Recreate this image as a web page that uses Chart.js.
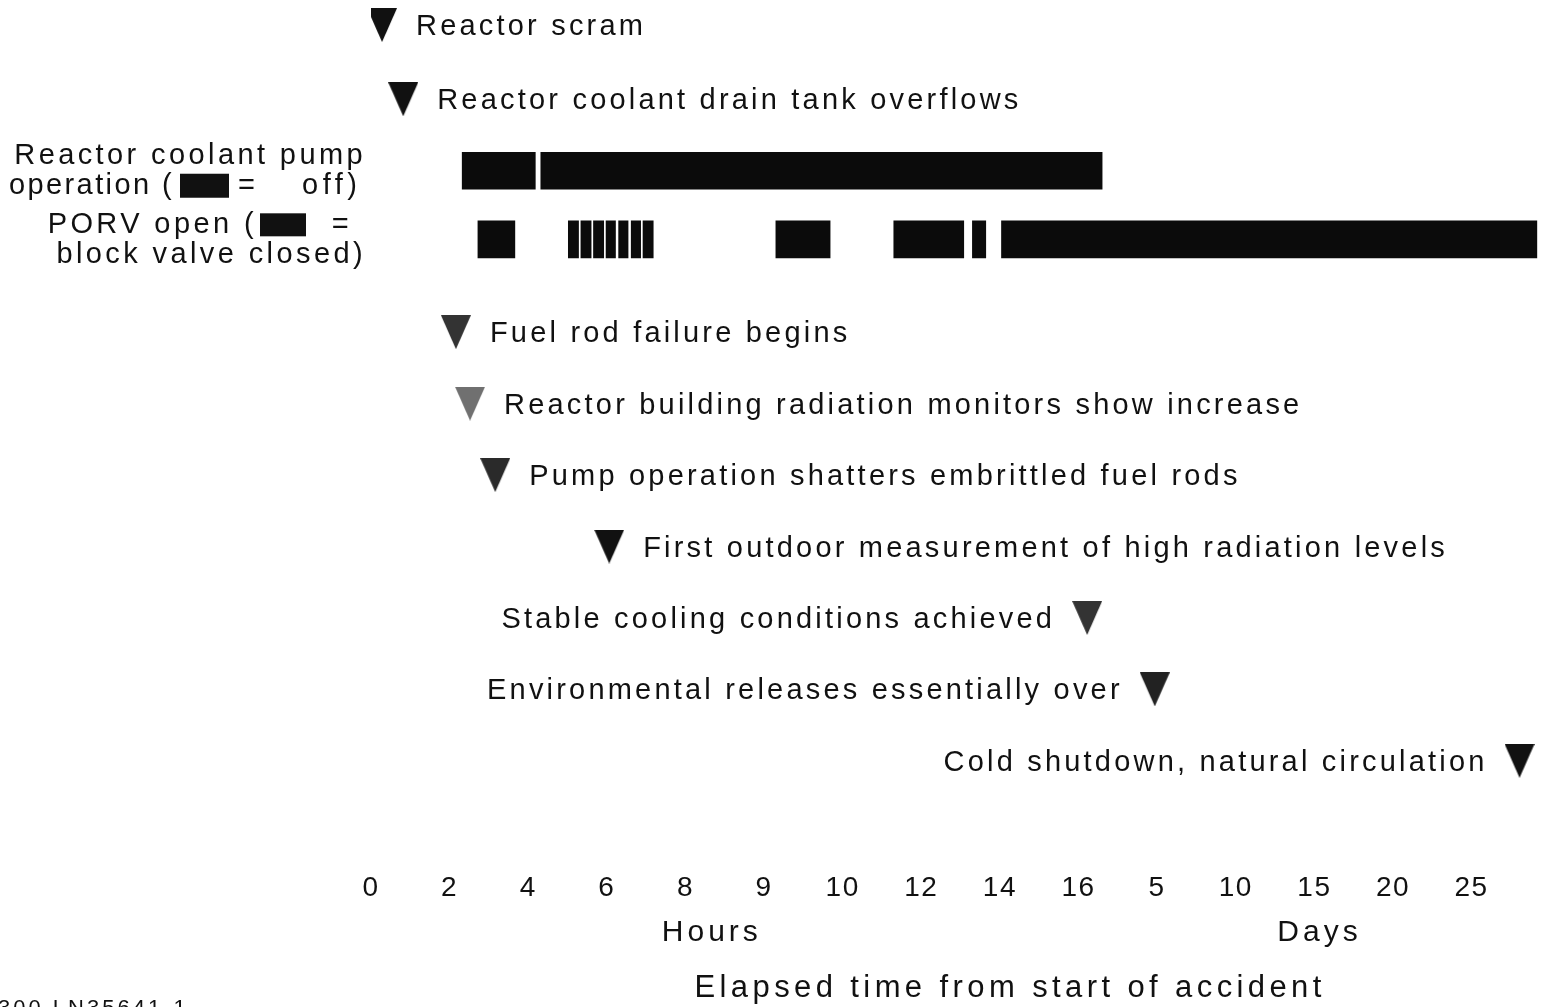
<!DOCTYPE html>
<html>
<head>
<meta charset="utf-8">
<script src="https://cdn.jsdelivr.net/npm/chart.js@4.4.1/dist/chart.umd.min.js"></script>
<style>
html,body{margin:0;padding:0;background:#fff;overflow:hidden}
#wrap{width:1541px;height:1007px;position:relative}
</style>
</head>
<body>
<div id="wrap"><canvas id="c" width="1541" height="1007"></canvas></div>
<script>
// ---------------- data ----------------
const tickLabels = ['0','2','4','6','8','9','10','12','14','16','5','10','15','20','25'];
const unitLabels = ['Hours','Days'];
const unitLabelAt = [4.31, 12.04];          // axis position (tick index units)
const axisTitle = 'Elapsed time from start of accident';
const axisTitleAt = 8.13;

const eventLabels = [
  'Reactor scram',
  'Reactor coolant drain tank overflows',
  'Fuel rod failure begins',
  'Reactor building radiation monitors show increase',
  'Pump operation shatters embrittled fuel rods',
  'First outdoor measurement of high radiation levels',
  'Stable cooling conditions achieved',
  'Environmental releases essentially over',
  'Cold shutdown, natural circulation'
];
const eventTimes = [0.14, 0.41, 1.08, 1.26, 1.58, 3.03, 9.11, 9.97, 14.61]; // tick index units
const eventRows  = [0, 1, 4, 5, 6, 7, 8, 9, 10];
const eventLabelSide = ['right','right','right','right','right','right','left','left','left'];

const pumpRow = 2;
const porvRow = 3;
const pumpOff = [[1.16, 2.09], [2.16, 9.30]];
const porvOpen = [
  [1.36, 1.83],
  [2.51, 2.64], [2.67, 2.80], [2.83, 2.96], [2.99, 3.11], [3.15, 3.27], [3.31, 3.43], [3.46, 3.59],
  [5.15, 5.84], [6.65, 7.54], [7.65, 7.82], [8.02, 14.83]
];

const pumpLegend = ['Reactor coolant pump', 'operation (', '=', 'off)'];
const porvLegend = ['PORV open (', '=', 'block valve closed)'];
const figureId = '300 LN35641-1';

// ---------------- styles ----------------
const INK = '#111111';
const FONT = '"Liberation Sans", Arial, sans-serif';
const eventShade = ['#111','#111','#333','#707070','#2a2a2a','#111','#333','#222','#111'];

function rowY(r) { return r + (r >= 4 ? 0.3 : (r === 1 || r === 2) ? 0.04 : 0); }

function triangle(color) {
  const c = document.createElement('canvas');
  c.width = 30; c.height = 34;
  const g = c.getContext('2d');
  g.fillStyle = color;
  g.beginPath();
  g.moveTo(0, 0); g.lineTo(30, 0); g.lineTo(15, 34); g.closePath();
  g.fill();
  return c;
}
const triangles = eventShade.map(triangle);

const textPlugin = {
  id: 'texts',
  beforeDraw(chart) { chart.ctx.letterSpacing = '1.5px'; },
  afterDraw(chart) {
    const ctx = chart.ctx;
    const xs = chart.scales.x, ys = chart.scales.y;
    const L = chart.chartArea.left;
    ctx.save();
    ctx.fillStyle = INK;
    ctx.textBaseline = 'middle';
    ctx.font = '29px ' + FONT;
    ctx.letterSpacing = '3.2px';

    // event labels
    const meta = chart.getDatasetMeta(2);
    meta.data.forEach((pt, i) => {
      if (eventLabelSide[i] === 'right') {
        ctx.textAlign = 'left';
        ctx.fillText(eventLabels[i], pt.x + 34, pt.y + 2);
      } else {
        ctx.textAlign = 'right';
        ctx.fillText(eventLabels[i], pt.x - 32, pt.y + 2);
      }
    });

    // left legend
    const py = ys.getPixelForValue(rowY(pumpRow));
    const qy = ys.getPixelForValue(rowY(porvRow));
    ctx.letterSpacing = '3.4px';
    ctx.textAlign = 'right';
    ctx.fillText(pumpLegend[0], L - 5, py - 15);
    ctx.letterSpacing = '2.4px';
    ctx.fillText(pumpLegend[1], L - 197, py + 15);
    ctx.fillRect(L - 191, py + 3, 49, 24);
    ctx.letterSpacing = '4.5px';
    ctx.textAlign = 'left';
    ctx.fillText(pumpLegend[2], L - 133, py + 15);
    ctx.fillText(pumpLegend[3], L - 69, py + 15);

    ctx.letterSpacing = '3.4px';
    ctx.textAlign = 'right';
    ctx.fillText(porvLegend[0], L - 114, qy - 14);
    ctx.fillRect(L - 111, qy - 26, 46, 23);
    ctx.fillText(porvLegend[1], L - 19, qy - 14);
    ctx.fillText(porvLegend[2], L - 5, qy + 16);

    // unit labels & axis title
    ctx.textAlign = 'center';
    ctx.font = '30px ' + FONT;
    ctx.letterSpacing = '4px';
    unitLabels.forEach((t, i) => ctx.fillText(t, xs.getPixelForValue(unitLabelAt[i]) + 2, xs.bottom + 16));
    ctx.font = '31px ' + FONT;
    ctx.letterSpacing = '4.4px';
    ctx.fillText(axisTitle, xs.getPixelForValue(axisTitleAt), xs.bottom + 71);

    // figure id (cut off at bottom)
    ctx.textAlign = 'left';
    ctx.textBaseline = 'alphabetic';
    ctx.font = '22px ' + FONT;
    ctx.letterSpacing = '3px';
    ctx.fillText(figureId, -2, 1015);
    ctx.restore();
  }
};

new Chart(document.getElementById('c'), {
  type: 'scatter',
  data: {
    datasets: [
      {
        type: 'bar', label: 'Reactor coolant pump (off)', indexAxis: 'y', grouped: false,
        barThickness: 37, backgroundColor: '#0b0b0b', borderWidth: 0, borderSkipped: false,
        data: pumpOff.map(s => ({ x: s, y: rowY(pumpRow) }))
      },
      {
        type: 'bar', label: 'PORV open', indexAxis: 'y', grouped: false,
        barThickness: 37, backgroundColor: '#0b0b0b', borderWidth: 0, borderSkipped: false,
        data: porvOpen.map(s => ({ x: s, y: rowY(porvRow) }))
      },
      {
        type: 'scatter', label: 'Events',
        data: eventTimes.map((t, i) => ({ x: t, y: rowY(eventRows[i]) })),
        pointStyle: ctx => triangles[ctx.dataIndex] || triangles[0],
        pointRadius: 17, pointHoverRadius: 17
      }
    ]
  },
  options: {
    responsive: false,
    animation: false,
    devicePixelRatio: 1,
    layout: { autoPadding: false, padding: { left: 371, right: 1, top: 0, bottom: 90 } },
    plugins: { legend: { display: false }, tooltip: { enabled: false } },
    scales: {
      x: {
        type: 'linear', min: 0, max: 14.87, offset: false, beginAtZero: false,
        grid: { display: false, drawTicks: false, offset: false },
        border: { display: false },
        afterBuildTicks: s => { s.ticks = tickLabels.map((_, i) => ({ value: i })); },
        ticks: {
          autoSkip: false, maxRotation: 0, padding: 12, color: INK,
          font: { family: FONT, size: 28 },
          callback: v => tickLabels[Math.round(v)]
        }
      },
      y: {
        type: 'linear', reverse: true, min: -0.35, max: 11.68, display: false,
        offset: false, grid: { display: false, offset: false }
      }
    }
  },
  plugins: [textPlugin]
});
</script>
</body>
</html>
